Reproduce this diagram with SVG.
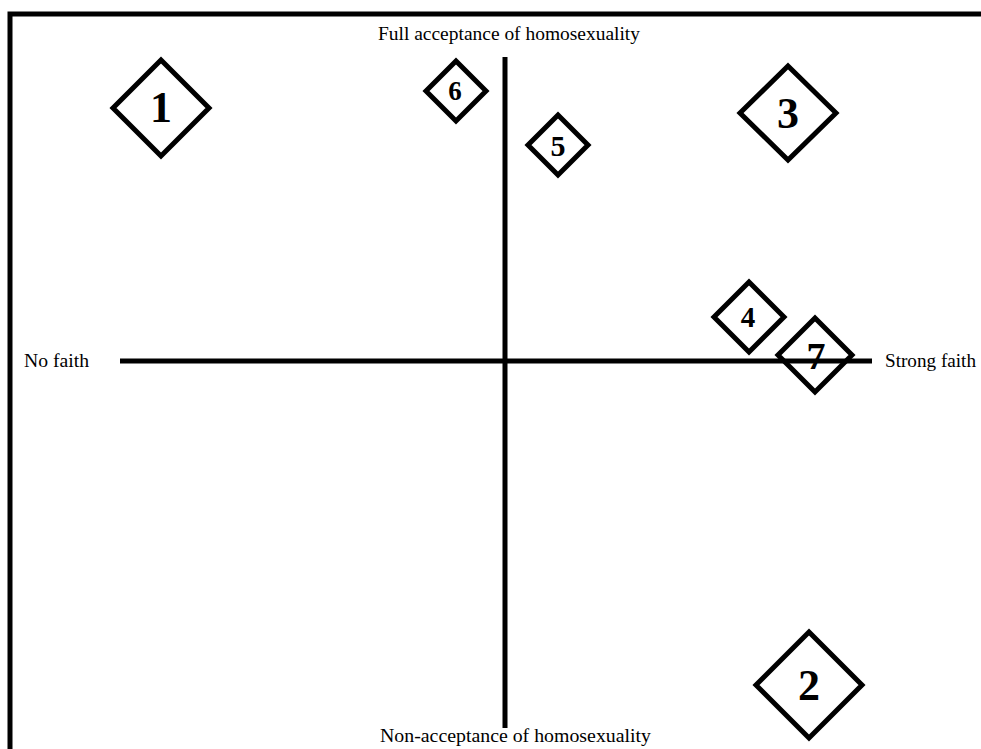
<svg xmlns="http://www.w3.org/2000/svg" width="981" height="749" viewBox="0 0 981 749">
<style>
.lbl{font-family:"Liberation Serif","Times New Roman",serif;font-size:19.5px;fill:#000}
.num{font-family:"Liberation Serif","Times New Roman",serif;font-weight:bold;fill:#000;text-anchor:middle}
.dia{fill:none;stroke:#000;stroke-width:5;stroke-linejoin:miter}
.ax{stroke:#000;stroke-width:5;fill:none}
</style>
<rect width="981" height="749" fill="#fff"/>
<g id="frame">
<path class="ax" d="M10,749 V14 H981" stroke-width="6"/>
</g>
<g id="axes">
<line class="ax" x1="505" y1="57" x2="505" y2="728"/>
<line class="ax" x1="120" y1="361" x2="872" y2="361"/>
</g>
<g id="labels">
<text class="lbl" x="378" y="40" textLength="262" lengthAdjust="spacingAndGlyphs">Full acceptance of homosexuality</text>
<text class="lbl" x="24" y="367" textLength="65" lengthAdjust="spacingAndGlyphs">No faith</text>
<text class="lbl" x="885" y="367" textLength="91" lengthAdjust="spacingAndGlyphs">Strong faith</text>
<text class="lbl" x="380" y="742" textLength="271" lengthAdjust="spacingAndGlyphs">Non-acceptance of homosexuality</text>
</g>
<g id="node1">
<polygon class="dia" points="161,60 209,108 161,156 113,108"/>
<text class="num" x="161" y="122" font-size="44">1</text>
</g>
<g id="node2">
<polygon class="dia" points="809,632 862,685 809,738 756,685"/>
<text class="num" x="809" y="700" font-size="44">2</text>
</g>
<g id="node3">
<polygon class="dia" points="788,66 836,113 788,160 740,113"/>
<text class="num" x="788" y="128" font-size="44">3</text>
</g>
<g id="node4">
<polygon class="dia" points="749,282 784,317 749,352 714,317"/>
<text class="num" x="748" y="327" font-size="29">4</text>
</g>
<g id="node5">
<polygon class="dia" points="558,115 588,145 558,175 528,145"/>
<text class="num" x="558" y="156" font-size="30">5</text>
</g>
<g id="node6">
<polygon class="dia" points="456,61 486,91 456,121 426,91"/>
<text class="num" x="455" y="100" font-size="27">6</text>
</g>
<g id="node7">
<polygon class="dia" points="815,318 852,355 815,392 778,355"/>
<text class="num" x="816" y="369" font-size="38">7</text>
</g>
</svg>
